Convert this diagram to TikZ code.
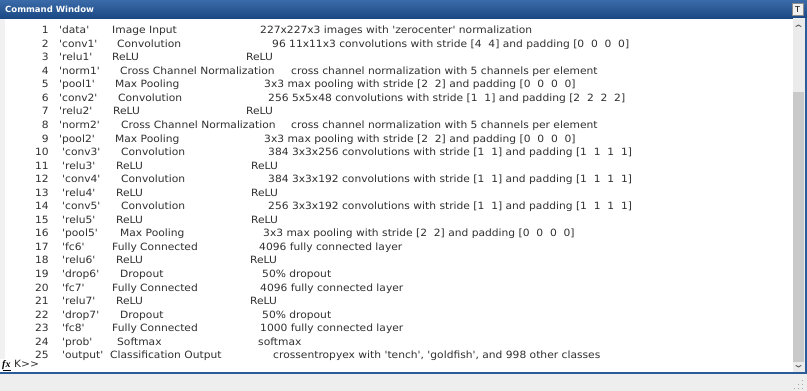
\documentclass[tikz,border=0pt]{standalone}
\usepackage{graphicx}
\usepackage{fontspec}
\newfontfamily\mlfont{DejaVu Sans}[Ligatures=TeXOff]
\newfontfamily\titlefont{DejaVu Sans}
\newfontfamily\fxfont{Liberation Serif}
\usetikzlibrary{calc}

% console text is set slightly wider than the bare font
\newcommand\widetext[1]{\scalebox{1.07}[1]{#1}}

\definecolor{titletop}{HTML}{3A6BA8}
\definecolor{titlebot}{HTML}{1B4884}
\definecolor{frameblue}{HTML}{2B5C9A}
\definecolor{panelgray}{HTML}{EEEEEE}
\definecolor{trackgray}{HTML}{EBEBEB}
\definecolor{thumbgray}{HTML}{C9C9C9}
\definecolor{textdark}{HTML}{303030}

\tikzset{
  cell/.style={anchor=base west, inner sep=0pt, text=textdark,
               font=\mlfont\fontsize{10}{12}\selectfont},
  numcell/.style={cell, anchor=base east},
  chev/.style={draw=black!65, line width=0.9pt, line cap=round, line join=round}
}

\begin{document}
\begin{tikzpicture}[x=1pt,y=-1pt]
  \useasboundingbox (0,0) rectangle (807,391);

  % window body
  \fill[white] (0,0) rectangle (807,391);
  \fill[panelgray] (0,373) rectangle (807,391);
  \fill[panelgray!80!white] (0,18) rectangle (5,359);

  % title bar
  \shade[top color=titletop, bottom color=titlebot] (0,0) rectangle (807,18);
  \node[anchor=west, inner sep=0pt, text=white,
        font=\titlefont\bfseries\fontsize{8.5}{10}\selectfont] (title) at (5,9.5) {Command Window};

  % undock button
  \node[draw=black!45, fill=white!94!black, minimum width=11pt, minimum height=12pt,
        inner sep=0pt, font=\titlefont\fontsize{8}{9}\selectfont] (undock) at (797.5,9.5) {T};

  % frame lines
  \fill[frameblue] (805,18) rectangle (807,374);
  \fill[frameblue] (0,371.5) rectangle (807,373.5);

  % vertical scroll bar
  \fill[trackgray] (792.5,18) rectangle (804.5,371.5);
  \fill[thumbgray] (793,92) rectangle (804,362);
  \coordinate (up) at (798.5,25);
  \coordinate (dn) at (798.5,367);
  \draw[chev] ($(up)+(-2.5,1.5)$) -- (up) -- ($(up)+(2.5,1.5)$);
  \draw[chev] ($(dn)+(-2.5,-1.5)$) -- (dn) -- ($(dn)+(2.5,-1.5)$);

  % resize grip
  \foreach \gx/\gy in {802/380, 802/384, 802/388, 798/384, 798/388, 794/388}
    \fill[black!35] (\gx,\gy) rectangle ++(1.2,1.2);

  % layer table
  \foreach \i/\nm/\xt/\ty/\xd/\ds in {
    1/{'data'}/112/{Image Input}/260/{227x227x3 images with 'zerocenter' normalization},
    2/{'conv1'}/117/{Convolution}/272/{96 11x11x3 convolutions with stride [4~~4] and padding [0~~0~~0~~0]},
    3/{'relu1'}/112/{ReLU}/246/{ReLU},
    4/{'norm1'}/120/{Cross Channel Normalization}/291/{cross channel normalization with 5 channels per element},
    5/{'pool1'}/115/{Max Pooling}/264/{3x3 max pooling with stride [2~~2] and padding [0~~0~~0~~0]},
    6/{'conv2'}/118/{Convolution}/268/{256 5x5x48 convolutions with stride [1~~1] and padding [2~~2~~2~~2]},
    7/{'relu2'}/113/{ReLU}/246/{ReLU},
    8/{'norm2'}/121/{Cross Channel Normalization}/291/{cross channel normalization with 5 channels per element},
    9/{'pool2'}/115/{Max Pooling}/264/{3x3 max pooling with stride [2~~2] and padding [0~~0~~0~~0]},
    10/{'conv3'}/121/{Convolution}/268/{384 3x3x256 convolutions with stride [1~~1] and padding [1~~1~~1~~1]},
    11/{'relu3'}/116/{ReLU}/251/{ReLU},
    12/{'conv4'}/121/{Convolution}/268/{384 3x3x192 convolutions with stride [1~~1] and padding [1~~1~~1~~1]},
    13/{'relu4'}/116/{ReLU}/251/{ReLU},
    14/{'conv5'}/121/{Convolution}/268/{256 3x3x192 convolutions with stride [1~~1] and padding [1~~1~~1~~1]},
    15/{'relu5'}/116/{ReLU}/251/{ReLU},
    16/{'pool5'}/120/{Max Pooling}/263/{3x3 max pooling with stride [2~~2] and padding [0~~0~~0~~0]},
    17/{'fc6'}/112/{Fully Connected}/259/{4096 fully connected layer},
    18/{'relu6'}/116/{ReLU}/250/{ReLU},
    19/{'drop6'}/120/{Dropout}/262/{50\% dropout},
    20/{'fc7'}/112/{Fully Connected}/260/{4096 fully connected layer},
    21/{'relu7'}/116/{ReLU}/250/{ReLU},
    22/{'drop7'}/120/{Dropout}/262/{50\% dropout},
    23/{'fc8'}/112/{Fully Connected}/260/{1000 fully connected layer},
    24/{'prob'}/117/{Softmax}/258/{softmax},
    25/{'output'}/110/{Classification Output}/273/{crossentropyex with 'tench', 'goldfish', and 998 other classes}%
  }{
    \pgfmathsetmacro\yb{33.6+(\i-1)*13.55}
    \pgfmathsetmacro\xn{\i<10 ? 59 : 62}
    \node[numcell] (num\i)  at (49,\yb)   {\widetext{\i}};
    \node[cell]    (id\i)   at (\xn,\yb)  {\widetext{\nm}};
    \node[cell]    (type\i) at (\xt,\yb)  {\widetext{\ty}};
    \node[cell]    (desc\i) at (\xd,\yb)  {\widetext{\ds}};
  }

  % prompt line
  \node[anchor=base west, inner sep=0pt,
        font=\fxfont\bfseries\itshape\fontsize{10}{12}\selectfont] (fx) at (2,367.5) {fx};
  \draw[black, line width=0.5pt] ($(fx.south west)+(1,0.8)$) -- ($(fx.south east)+(0,0.8)$);
  \node[cell] (prompt) at (14,367.5) {\widetext{K>>}};
\end{tikzpicture}
\end{document}
